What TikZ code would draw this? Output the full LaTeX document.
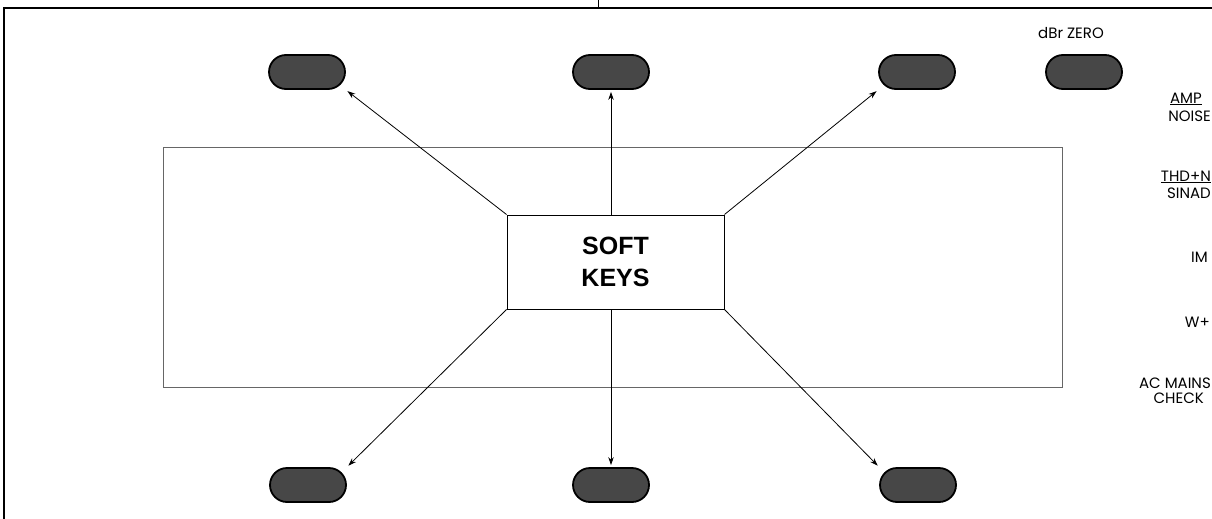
\documentclass[tikz,border=0pt]{standalone}
\usepackage{fontspec}
\setmainfont{Liberation Sans}
\newfontfamily\gothic{Poppins}
\usetikzlibrary{arrows.meta}
\begin{document}
\begin{tikzpicture}[x=1pt,y=-1pt,
  pill/.style={draw=black,line width=1.8pt,fill=black!72,rounded corners=17pt,minimum width=76pt,minimum height=34pt,inner sep=0pt},
  arr/.style={line width=0.8pt,-{Stealth[length=8pt,width=5.5pt]}, shorten >=2pt},
  lab/.style={font=\gothic\fontsize{15}{15}\selectfont,inner sep=0pt},
  frame/.style={line width=1.6pt}]
\useasboundingbox (0,0) rectangle (1212,519);
% frame
\coordinate (ftl) at (4,8);
\coordinate (ftr) at (1212,8);
\coordinate (fbl) at (4,519);
\coordinate (tk1) at (598,0);
\coordinate (tk2) at (598,8);
\draw[frame] (fbl) -- (ftl) -- (ftr);
\draw[line width=0.6pt] (tk1) -- (tk2);
% display rectangle
\node[draw=black!60,line width=0.6pt,minimum width=899pt,minimum height=240pt,inner sep=0pt] (disp) at (612.5,267) {};
% soft keys box
\node[draw=black,line width=1pt,fill=white,minimum width=217pt,minimum height=94pt,inner sep=0pt,
  font=\bfseries\fontsize{25}{32.5}\selectfont,align=center] (sk) at (615.5,262) {SOFT\\KEYS};
% buttons
\node[pill] (t1) at (307,72) {};
\node[pill] (t2) at (611,72) {};
\node[pill] (t3) at (917,72) {};
\node[pill] (t4) at (1084,72) {};
\node[pill] (b1) at (308,485) {};
\node[pill] (b2) at (611,485) {};
\node[pill] (b3) at (918,485) {};
% arrows
\draw[arr] (sk.north west) -- (t1.south east);
\draw[arr] (sk.north -| t2) -- (t2.south);
\draw[arr] (sk.north east) -- (t3.south west);
\draw[arr] (sk.south west) -- (b1.north east);
\draw[arr] (sk.south -| b2) -- (b2.north);
\draw[arr] (sk.south east) -- (b3.north west);
% labels
\node[lab,anchor=base] (dbr) at (1071,39) {dBr ZERO};
\node[lab,anchor=base east] (amp) at (1202,103) {\underline{AMP}};
\node[lab,anchor=base east] (noise) at (1211,121) {NOISE};
\node[lab,anchor=base east] (thd) at (1211,181) {\underline{THD+N}};
\node[lab,anchor=base east] (sinad) at (1211,198) {SINAD};
\node[lab,anchor=base east] (im) at (1208,262) {IM};
\node[lab,anchor=base east] (wf) at (1210,327) {W+};
\node[lab,anchor=base east] (ac) at (1211,388) {AC MAINS};
\node[lab,anchor=base east] (chk) at (1204,403) {CHECK};
\end{tikzpicture}
\end{document}
